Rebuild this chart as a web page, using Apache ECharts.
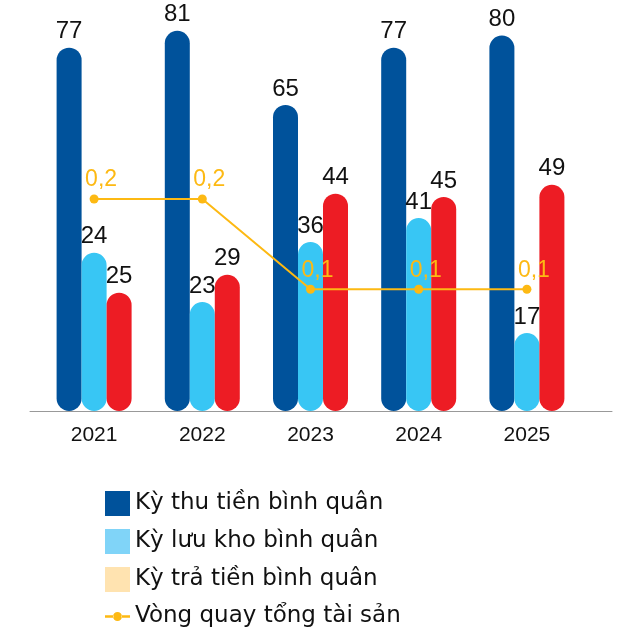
<!DOCTYPE html>
<html>
<head>
<meta charset="utf-8">
<script src="https://cdn.jsdelivr.net/npm/echarts@6/dist/echarts.min.js"></script>
<style>
    html, body { margin: 0; padding: 0; background: #fff; }
    #chart { width: 622px; height: 629px; }
</style>
</head>
<body>
<div id="chart"></div>
<script>
var years = ['2021', '2022', '2023', '2024', '2025'];
// bar heights as drawn in the picture
var kyThuTien = [77.4, 81, 65.2, 77.4, 80];
var kyLuuKho = [33.7, 23.2, 36, 41.1, 16.6];
var kyTraTien = [25.2, 29, 46.3, 45.6, 48.2];
// printed labels
var kyThuTienLabels = ['77', '81', '65', '77', '80'];
var kyLuuKhoLabels = ['24', '23', '36', '41', '17'];
var kyTraTienLabels = ['25', '29', '44', '45', '49'];
var vongQuay = [0.2125, 0.2125, 0.122, 0.122, 0.122];
var vongQuayLabels = ['0,2', '0,2', '0,1', '0,1', '0,1'];

var chartDom = document.getElementById('chart');
var myChart = echarts.init(chartDom);
var option;

function barLabel(texts) {
    return {
        show: true,
        position: 'top',
        distance: 4,
        color: '#111',
        fontSize: 24,
        fontFamily: 'Liberation Sans',
        formatter: function (p) {
            return texts[p.dataIndex];
        }
    };
}

// legend icon for the line: short line with a dot in the middle
var linePath = 'path://M0,11.25h8.5v2.5H0z M16.5,11.25h8.5v2.5h-8.5z M8,12.5a4.5,4.5 0 1,0 9,0a4.5,4.5 0 1,0 -9,0z';

option = {
    animation: false,
    grid: [
        { left: 40, right: 41, top: 12, bottom: 218 },
        { left: 30, right: 10, top: 12, bottom: 218 }
    ],
    legend: {
        orient: 'vertical',
        left: 100,
        top: 486,
        height: 142,
        itemWidth: 25,
        itemHeight: 25,
        itemGap: 13,
        symbolKeepAspect: true,
        textStyle: {
            fontSize: 23,
            color: '#111',
            fontFamily: 'DejaVu Sans'
        },
        data: [
            { name: 'Kỳ thu tiền bình quân', icon: 'rect', itemStyle: { color: '#00529B' } },
            { name: 'Kỳ lưu kho bình quân', icon: 'rect', itemStyle: { color: '#80D4F8' } },
            { name: 'Kỳ trả tiền bình quân', icon: 'rect', itemStyle: { color: '#FFE3B0' } },
            { name: 'Vòng quay tổng tài sản', icon: linePath, itemStyle: { color: '#FDB913' } }
        ]
    },
    xAxis: [
        {
            type: 'category',
            gridIndex: 0,
            data: years,
            axisTick: { show: false },
            axisLine: { show: false },
            axisLabel: {
                color: '#111',
                fontSize: 21,
                margin: 14,
                fontFamily: 'Liberation Sans'
            }
        },
        {
            type: 'value',
            gridIndex: 1,
            min: 0,
            max: 1,
            axisTick: { show: false },
            axisLabel: { show: false },
            splitLine: { show: false },
            axisLine: { show: true, onZero: false, lineStyle: { color: '#999', width: 1 } }
        }
    ],
    yAxis: [
        { type: 'value', gridIndex: 0, min: 0, max: 85, show: false },
        { type: 'value', gridIndex: 0, min: 0, max: 0.4, show: false },
        { type: 'value', gridIndex: 1, min: 0, max: 1, show: false }
    ],
    series: [
        {
            name: 'Kỳ thu tiền bình quân',
            type: 'bar',
            data: kyThuTien,
            barWidth: 25,
            barGap: '0%',
            itemStyle: { color: '#00529B', borderRadius: 12.5 },
            label: barLabel(kyThuTienLabels)
        },
        {
            name: 'Kỳ lưu kho bình quân',
            type: 'bar',
            data: kyLuuKho,
            barWidth: 25,
            barGap: '0%',
            itemStyle: { color: '#38C6F4', borderRadius: 12.5 },
            label: barLabel(kyLuuKhoLabels)
        },
        {
            name: 'Kỳ trả tiền bình quân',
            type: 'bar',
            data: kyTraTien,
            barWidth: 25,
            barGap: '0%',
            itemStyle: { color: '#ED1C24', borderRadius: 12.5 },
            label: barLabel(kyTraTienLabels)
        },
        {
            name: 'Vòng quay tổng tài sản',
            type: 'line',
            yAxisIndex: 1,
            data: vongQuay,
            symbol: 'circle',
            symbolSize: 9,
            color: '#FDB913',
            lineStyle: { width: 2, color: '#FDB913' },
            label: {
                show: true,
                position: 'top',
                offset: [7, 0],
                distance: 3,
                color: '#FDB913',
                fontSize: 23,
                fontFamily: 'Liberation Sans',
                formatter: function (p) {
                    return vongQuayLabels[p.dataIndex];
                }
            }
        }
    ]
};

myChart.setOption(option);
</script>
</body>
</html>
